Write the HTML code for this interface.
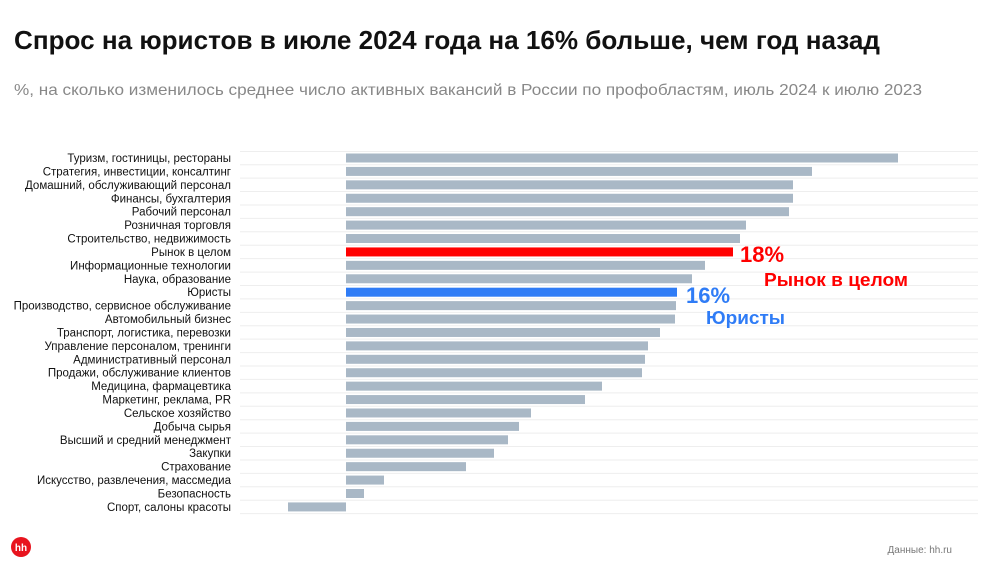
<!DOCTYPE html>
<html><head><meta charset="utf-8"><style>
html,body{margin:0;padding:0;background:#fff;width:1000px;height:562px;overflow:hidden}
svg{display:block;font-family:"Liberation Sans",sans-serif}
</style></head><body>
<svg width="1000" height="562" xmlns="http://www.w3.org/2000/svg">
<text x="14" y="49" font-size="26" font-weight="bold" fill="#111" textLength="866" lengthAdjust="spacingAndGlyphs">Спрос на юристов в июле 2024 года на 16% больше, чем год назад</text>
<text x="14" y="95" font-size="16" fill="#888" textLength="908" lengthAdjust="spacingAndGlyphs">%, на сколько изменилось среднее число активных вакансий в России по профобластям, июль 2024 к июлю 2023</text>
<g id="rows"></g>
<text x="740" y="262" font-size="22" font-weight="bold" fill="#f00">18%</text>
<text x="764" y="286" font-size="18.5" font-weight="bold" fill="#f00" textLength="144" lengthAdjust="spacingAndGlyphs">Рынок в целом</text>
<text x="686" y="303" font-size="22" font-weight="bold" fill="#2f7cf6">16%</text>
<text x="706" y="324" font-size="18.5" font-weight="bold" fill="#2f7cf6" textLength="79" lengthAdjust="spacingAndGlyphs">Юристы</text>
<circle cx="21" cy="547" r="10" fill="#e8141e"/>
<text x="21" y="551" font-size="10" font-weight="bold" fill="#fff" text-anchor="middle">hh</text>
<text x="952" y="553" font-size="10" fill="#777" text-anchor="end">Данные: hh.ru</text>
</svg>
<script>
var d=[["Туризм, гостиницы, рестораны",898],["Стратегия, инвестиции, консалтинг",812],["Домашний, обслуживающий персонал",793],["Финансы, бухгалтерия",793],["Рабочий персонал",789],["Розничная торговля",746],["Строительство, недвижимость",740],["Рынок в целом",733],["Информационные технологии",705],["Наука, образование",692],["Юристы",677],["Производство, сервисное обслуживание",676],["Автомобильный бизнес",675],["Транспорт, логистика, перевозки",660],["Управление персоналом, тренинги",648],["Административный персонал",645],["Продажи, обслуживание клиентов",642],["Медицина, фармацевтика",602],["Маркетинг, реклама, PR",585],["Сельское хозяйство",531],["Добыча сырья",519],["Высший и средний менеджмент",508],["Закупки",494],["Страхование",466],["Искусство, развлечения, массмедиа",384],["Безопасность",364],["Спорт, салоны красоты",288]];
var g=document.getElementById("rows"),s="",p=13.42;
s+='<line x1="240" x2="978" y1="151.5" y2="151.5" stroke="#eee" stroke-width="1"/>';
d.forEach(function(r,i){var c=158+i*p;
s+='<line x1="240" x2="978" y1="'+(c+p/2)+'" y2="'+(c+p/2)+'" stroke="#eee" stroke-width="1"/>';
var col=i==7?"#ff0000":i==10?"#2f7cf6":"#a9b8c6";
var x0=Math.min(346,r[1]),w=Math.abs(r[1]-346);
s+='<rect x="'+x0+'" y="'+(c-4.5)+'" width="'+w+'" height="9" fill="'+col+'"/>';
s+='<text x="231" y="'+(c+4)+'" font-size="11.5" fill="#111" text-anchor="end">'+r[0]+'</text>';});
g.innerHTML=s;
</script>
</body></html>
